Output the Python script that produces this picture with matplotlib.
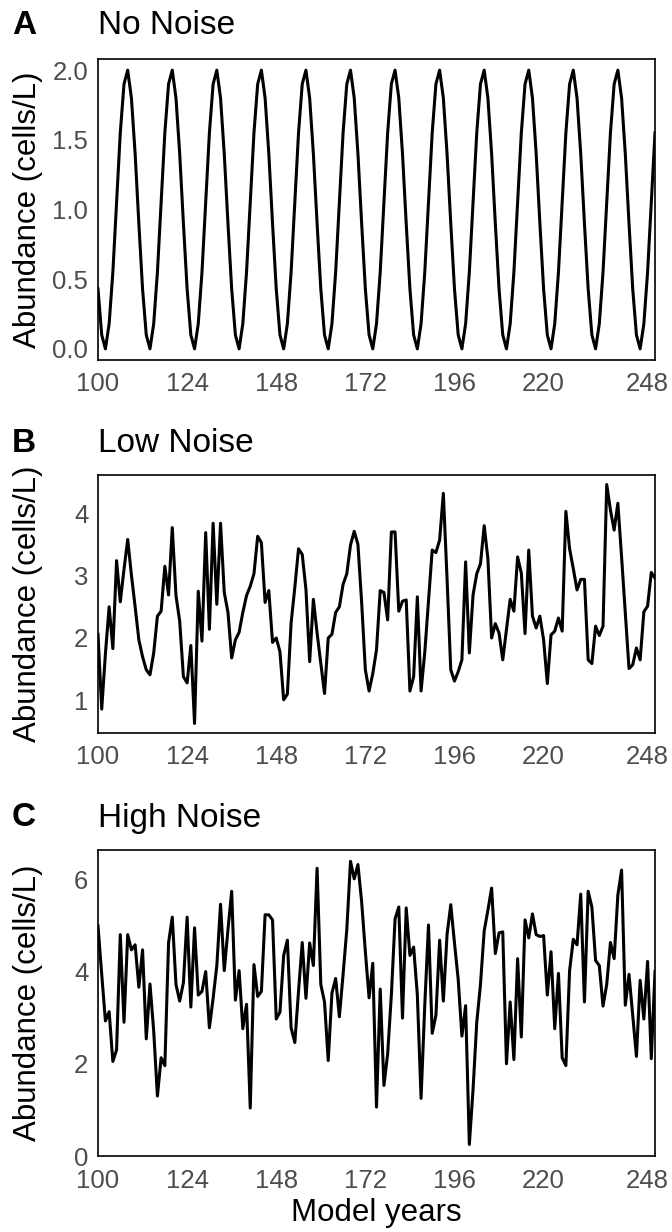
import matplotlib
matplotlib.use("Agg")
import matplotlib.pyplot as plt
from matplotlib.ticker import FormatStrFormatter

plt.rcParams['font.family'] = ['Liberation Sans', 'DejaVu Sans']

years = list(range(100, 251))

no_noise = [
    0.43, 0.10,
    0.00, 0.18, 0.55, 1.05, 1.55, 1.90, 2.00, 1.80, 1.40, 0.90, 0.43, 0.10,
    0.00, 0.18, 0.55, 1.05, 1.55, 1.90, 2.00, 1.80, 1.40, 0.90, 0.43, 0.10,
    0.00, 0.18, 0.55, 1.05, 1.55, 1.90, 2.00, 1.80, 1.40, 0.90, 0.43, 0.10,
    0.00, 0.18, 0.55, 1.05, 1.55, 1.90, 2.00, 1.80, 1.40, 0.90, 0.43, 0.10,
    0.00, 0.18, 0.55, 1.05, 1.55, 1.90, 2.00, 1.80, 1.40, 0.90, 0.43, 0.10,
    0.00, 0.18, 0.55, 1.05, 1.55, 1.90, 2.00, 1.80, 1.40, 0.90, 0.43, 0.10,
    0.00, 0.18, 0.55, 1.05, 1.55, 1.90, 2.00, 1.80, 1.40, 0.90, 0.43, 0.10,
    0.00, 0.18, 0.55, 1.05, 1.55, 1.90, 2.00, 1.80, 1.40, 0.90, 0.43, 0.10,
    0.00, 0.18, 0.55, 1.05, 1.55, 1.90, 2.00, 1.80, 1.40, 0.90, 0.43, 0.10,
    0.00, 0.18, 0.55, 1.05, 1.55, 1.90, 2.00, 1.80, 1.40, 0.90, 0.43, 0.10,
    0.00, 0.18, 0.55, 1.05, 1.55, 1.90, 2.00, 1.80, 1.40, 0.90, 0.43, 0.10,
    0.00, 0.18, 0.55, 1.05, 1.55, 1.90, 2.00, 1.80, 1.40, 0.90, 0.43, 0.10,
    0.00, 0.18, 0.55, 1.05, 1.55,
]

low_noise = [
    2.06, 0.86, 1.75, 2.50, 1.83, 3.24, 2.58, 3.10, 3.58, 3.01,  # 100-109
    2.50, 1.97, 1.70, 1.49, 1.41, 1.76, 2.35, 2.43, 3.15, 2.69,  # 110-119
    3.77, 2.68, 2.27, 1.38, 1.28, 1.88, 0.63, 2.75, 1.95, 3.69,  # 120-129
    2.14, 3.84, 2.54, 3.84, 2.73, 2.41, 1.68, 1.97, 2.09, 2.41,  # 130-139
    2.68, 2.83, 3.03, 3.63, 3.53, 2.57, 2.76, 1.93, 2.00, 1.78,  # 140-149
    1.01, 1.10, 2.24, 2.81, 3.43, 3.34, 2.78, 1.62, 2.62, 2.08,  # 150-159
    1.59, 1.11, 2.00, 2.06, 2.41, 2.50, 2.86, 3.03, 3.49, 3.71,  # 160-169
    3.50, 2.57, 1.49, 1.15, 1.43, 1.81, 2.76, 2.73, 2.29, 3.70,  # 170-179
    3.70, 2.43, 2.59, 2.61, 1.15, 1.38, 2.66, 1.15, 1.77, 2.60,  # 180-189
    3.41, 3.37, 3.57, 4.32, 2.95, 1.49, 1.31, 1.46, 1.65, 3.22,  # 190-199
    1.76, 2.69, 3.03, 3.19, 3.80, 3.27, 2.00, 2.23, 2.08, 1.65,  # 200-209
    2.14, 2.62, 2.43, 3.30, 3.04, 2.07, 3.41, 2.35, 2.16, 2.35,  # 210-219
    1.97, 1.27, 2.05, 2.11, 2.32, 2.11, 4.03, 3.43, 3.11, 2.77,  # 220-229
    2.94, 2.94, 1.65, 1.59, 2.19, 2.04, 2.19, 4.46, 4.05, 3.73,  # 230-239
    4.16, 3.30, 2.41, 1.51, 1.57, 1.84, 1.65, 2.42, 2.51, 3.05,  # 240-249
    2.96,
]

high_noise = [
    4.99, 3.94, 2.93, 3.13, 2.05, 2.30, 4.80, 2.90, 4.80, 4.47,  # 100-109
    4.58, 3.66, 4.47, 2.54, 3.73, 2.71, 1.30, 2.13, 1.96, 4.62,  # 110-119
    5.18, 3.72, 3.36, 3.76, 5.18, 3.23, 4.95, 3.49, 3.57, 4.00,  # 120-129
    2.78, 3.42, 4.13, 5.46, 4.02, 4.91, 5.74, 3.38, 4.02, 2.76,  # 130-139
    3.29, 1.04, 4.15, 3.46, 3.57, 5.23, 5.23, 5.12, 2.97, 3.12,  # 140-149
    4.35, 4.68, 2.78, 2.46, 3.57, 4.63, 3.42, 4.62, 4.13, 6.24,  # 150-159
    3.72, 3.34, 2.07, 3.53, 3.85, 3.02, 3.94, 4.91, 6.39, 6.01,  # 160-169
    6.32, 5.51, 4.43, 3.43, 4.18, 1.06, 3.62, 1.53, 2.21, 3.49,  # 170-179
    5.14, 5.40, 2.99, 5.38, 4.35, 4.53, 3.49, 1.25, 3.27, 5.01,  # 180-189
    2.66, 3.05, 4.68, 3.36, 4.80, 5.45, 4.62, 3.83, 2.60, 3.26,  # 190-199
    0.25, 1.44, 2.90, 3.72, 4.88, 5.33, 5.81, 4.39, 4.84, 4.86,  # 200-209
    2.00, 3.34, 2.09, 4.28, 2.58, 5.12, 4.73, 5.25, 4.80, 4.76,  # 210-219
    4.78, 3.49, 4.43, 2.76, 3.96, 2.13, 1.96, 4.02, 4.70, 4.58,  # 220-229
    5.68, 3.34, 5.74, 5.40, 4.24, 4.13, 3.25, 3.72, 4.63, 4.28,  # 230-239
    5.66, 6.20, 3.27, 3.94, 3.05, 2.16, 3.81, 2.97, 4.22, 2.11,  # 240-249
    4.00,
]

panels = [
    ("A", "No Noise", no_noise, [0.0, 0.5, 1.0, 1.5, 2.0], "%.1f"),
    ("B", "Low Noise", low_noise, [1, 2, 3, 4], "%d"),
    ("C", "High Noise", high_noise, [0, 2, 4, 6], "%d"),
]
xticks = [100, 124, 148, 172, 196, 220, 248]

W, H = 672, 1232
# frame boxes in pixels: (top, bottom), title centre y
frames = [(59, 360, 26), (475, 733, 443), (850, 1156, 818)]
left_px, right_px = 98, 655

fig = plt.figure(figsize=(W / 100, H / 100), dpi=100)

for (letter, title, values, yticks, fmt), (top, bot, ty) in zip(panels, frames):
    ax = fig.add_axes([left_px / W, 1 - bot / H,
                       (right_px - left_px) / W, (bot - top) / H])
    ax.plot(years, values, color="black", linewidth=2.2)
    ax.set_xlim(100, 250)
    ax.margins(y=0.04)
    ax.set_xticks(xticks)
    ax.set_yticks(yticks)
    ax.yaxis.set_major_formatter(FormatStrFormatter(fmt))
    ax.tick_params(length=0, labelsize=18.5, labelcolor="#4d4d4d")
    ax.tick_params(axis="y", pad=7)
    ax.tick_params(axis="x", pad=9)
    for s in ax.spines.values():
        s.set_linewidth(1.2)
        s.set_color("black")

    fig.text(12 / W, 1 - ty / H, letter, fontsize=24, fontweight="bold",
             ha="left", va="center")
    fig.text(left_px / W, 1 - ty / H, title, fontsize=24,
             ha="left", va="center")
    fig.text(28 / W, 1 - (top + bot) / 2 / H, "Abundance (cells/L)",
             fontsize=22.5, rotation=90, ha="center", va="center")

fig.text((left_px + right_px) / 2 / W, 1 - 1213 / H, "Model years",
         fontsize=22.5, ha="center", va="center")

fig.savefig("out.png", dpi=100)
